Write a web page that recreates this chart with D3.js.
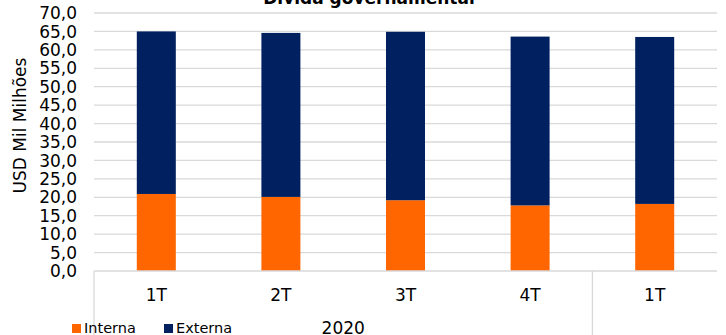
<!DOCTYPE html>
<html><head><meta charset="utf-8">
<script src="https://cdn.jsdelivr.net/npm/d3@7"></script>
<style>body{margin:0;background:#fff}svg{display:block;font-family:"DejaVu Sans",Verdana,sans-serif}</style>
</head><body>
<svg id="c" width="726" height="335"></svg>
<script>
const categories = ["1T","2T","3T","4T","1T"];
const interna = [20.9, 20.1, 19.2, 17.8, 18.2];
const externa = [44.1, 44.5, 45.7, 45.8, 45.3];
const yTicks = [0,5,10,15,20,25,30,35,40,45,50,55,60,65,70];
const seriesNames = ["Interna","Externa"];
const colors = {Interna:"#FF6600", Externa:"#002060"};
const groupLabel = "2020";
const title = "Dívida governamental";
const yTitle = "USD Mil Milhões";

const svg = d3.select("#c");
const L = 94, R = 717, T = 13, B = 271;
const rows = categories.map((c,i)=>({idx:i, cat:c, Interna:interna[i], Externa:externa[i]}));
const x = d3.scaleBand().domain(rows.map(d=>d.idx)).range([L,R]).paddingInner(0.687).paddingOuter(0.3435);
const y = d3.scaleLinear().domain([0,70]).range([B,T]);
const fmt = v => d3.format(".1f")(v).replace(".", ",");

// gridlines
svg.append("g").selectAll("line").data(yTicks.filter(t=>t>0)).join("line")
  .attr("x1",L).attr("x2",R).attr("y1",d=>y(d)).attr("y2",d=>y(d))
  .attr("stroke","#d9d9d9").attr("stroke-width",1.3);

// y tick labels
svg.append("g").selectAll("text").data(yTicks).join("text")
  .attr("x",77).attr("y",d=>y(d)).attr("dy","0.36em").attr("text-anchor","end")
  .attr("font-size",17).attr("fill","#000").text(fmt);

// bars
const stack = d3.stack().keys(seriesNames)(rows);
svg.append("g").selectAll("g").data(stack).join("g").attr("fill",d=>colors[d.key])
  .selectAll("rect").data(d=>d).join("rect")
  .attr("x",d=>x(d.data.idx)).attr("width",x.bandwidth())
  .attr("y",d=>y(d[1])).attr("height",d=>y(d[0])-y(d[1]));

// category axis
svg.append("line").attr("x1",L).attr("x2",R).attr("y1",B).attr("y2",B).attr("stroke","#d9d9d9").attr("stroke-width",1.5);
const step = x.step();
[L, L + step*4].forEach(xx=>{
  svg.append("line").attr("x1",xx).attr("x2",xx).attr("y1",B).attr("y2",335).attr("stroke","#d9d9d9").attr("stroke-width",1.3);
});
svg.append("g").selectAll("text").data(rows).join("text")
  .attr("x",d=>x(d.idx)+x.bandwidth()/2).attr("y",300.5).attr("text-anchor","middle")
  .attr("font-size",17).attr("fill","#000").text(d=>d.cat);
svg.append("text").attr("x",(L + L+step*4)/2).attr("y",334).attr("text-anchor","middle")
  .attr("font-size",17).attr("fill","#000").text(groupLabel);

// title
svg.append("text").attr("x",369).attr("y",4).attr("text-anchor","middle")
  .attr("font-size",17).attr("font-weight","bold").attr("fill","#000").text(title);

// y axis title
svg.append("text").attr("transform","translate(26,125.5) rotate(-90)").attr("text-anchor","middle")
  .attr("font-size",17).attr("fill","#000").text(yTitle);

// legend
const lg = svg.append("g").selectAll("g").data(seriesNames).join("g")
  .attr("transform",(d,i)=>`translate(${72 + i*92},0)`);
lg.append("rect").attr("x",0).attr("y",324).attr("width",9).attr("height",9).attr("fill",d=>colors[d]);
lg.append("text").attr("x",12).attr("y",333).attr("font-size",14.5).attr("fill","#000").text(d=>d);
</script>
</body></html>
